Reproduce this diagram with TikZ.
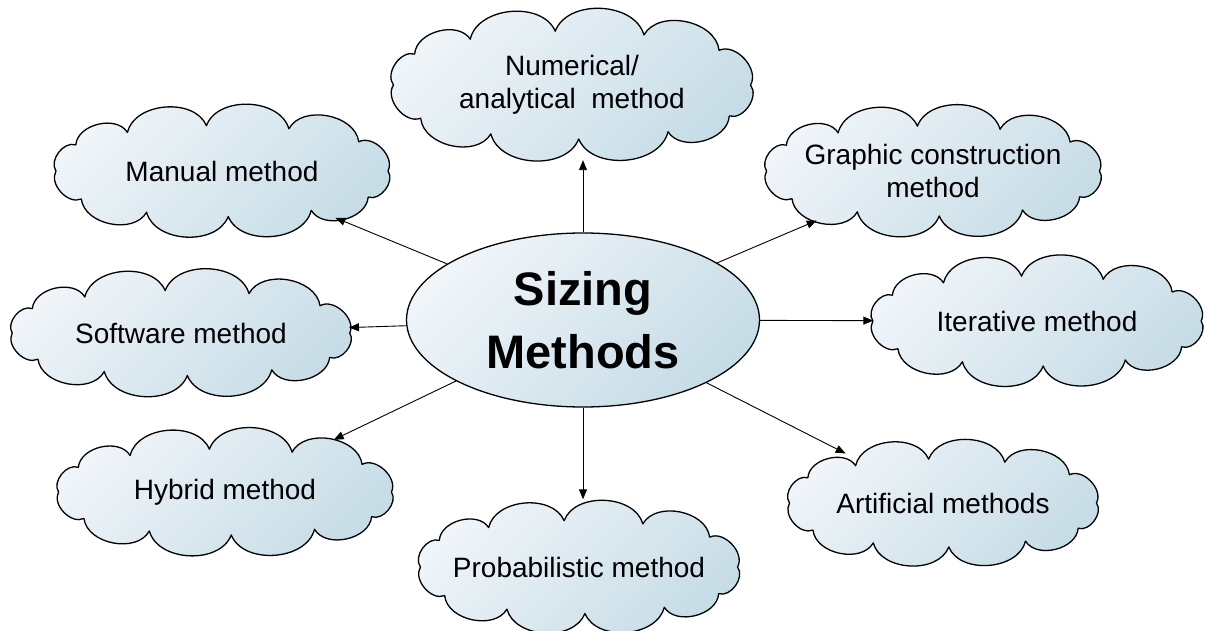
\documentclass[tikz,border=0pt]{standalone}
\usepackage{fontspec}
\setmainfont{Liberation Sans}
\usetikzlibrary{shapes.geometric,arrows.meta}
\definecolor{cloudlight}{HTML}{F0F5F9}
\definecolor{clouddark}{HTML}{C6DCE6}
\tikzset{
  cloudline/.style={draw=black, line width=1.3pt, top color=cloudlight,
    bottom color=clouddark, shading angle=45, line join=round},
  cloudtext/.style={ellipse, inner sep=0pt, align=center,
    font=\fontsize{28}{33}\selectfont},
  hub/.style={ellipse, draw=black, line width=1.3pt, top color=cloudlight,
    bottom color=clouddark, shading angle=45, minimum width=353pt, minimum height=174pt,
    inner sep=0pt, font=\fontsize{47}{63}\selectfont\bfseries, align=center},
  link/.style={-{Triangle[length=10pt,width=8pt]}, line width=0.9pt}}
\newcommand\drawcloud[5]{%
  \pgfmathsetmacro\ca{#3/2+9}\pgfmathsetmacro\cb{#4/2-21}%
  \begin{scope}[shift={#2}]
    \draw[cloudline] (0:0.93*\ca pt and 0.93*\cb pt)
      \foreach \t/\r in {40/1,68/1,95/1,122/1,145/1,180/0.93,218/1,245/1,272/1,300/1,325/1}
        { to[bend right=72] (\t:\r*\ca pt and \r*\cb pt) } to[bend right=72] cycle;
  \end{scope}
  \node[cloudtext, minimum width=#3pt, minimum height=#4pt] (#1) at #2 {#5};}
\begin{document}
\begin{tikzpicture}[x=1pt,y=-1pt]
\useasboundingbox (0,0) rectangle (1205,631);
\node[hub] (c) at (583,320) {Sizing\\Methods};
\drawcloud{num}{(572,85)}{366}{150}{Numerical/\\analytical\ \ method}
\drawcloud{gra}{(933,171)}{340}{132}{Graphic construction\\method}
\drawcloud{ite}{(1037,321)}{335}{132}{Iterative method}
\drawcloud{art}{(943,503)}{312}{130}{Artificial methods}
\drawcloud{pro}{(579,567)}{323}{135}{Probabilistic method}
\drawcloud{hyb}{(225,492)}{340}{128}{Hybrid method}
\drawcloud{sof}{(181,333)}{345}{127}{Software method}
\drawcloud{man}{(222,171)}{339}{133}{Manual method}
\draw[link] (c.north) -- (c.north |- num.south);
\draw[link, shorten >=-2pt] (c) -- (gra);
\draw[link, shorten >=-4pt] (c) -- (ite);
\draw[link, shorten >=-2pt] (c) -- (art);
\draw[link] (c.south) -- (c.south |- pro.north);
\draw[link, shorten >=4pt] (c) -- (hyb);
\draw[link, shorten >=-4pt] (c) -- (sof);
\draw[link, shorten >=-4pt] (c) -- (man);
\end{tikzpicture}
\end{document}
